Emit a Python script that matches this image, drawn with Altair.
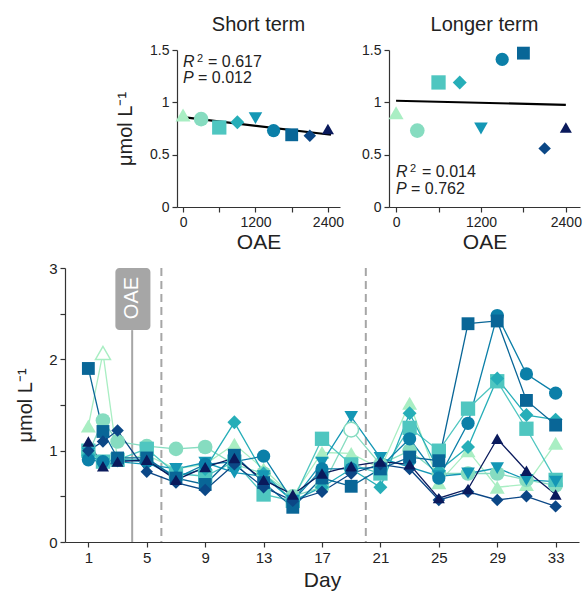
import altair as alt
import pandas as pd

# Sampling days of the time series
days = [1, 2, 3, 5, 7, 9, 11, 13, 15, 17, 19, 21, 23, 25, 27, 29, 31, 33]

# OAE treatment levels, one series per level
oae_levels = [0, 300, 600, 900, 1200, 1500, 1800, 2100, 2400]
series_names = [str(v) for v in oae_levels]
series_colors = ["#a9eec3", "#86dcc0", "#4fc6c0", "#26aeb8", "#1497b5",
                 "#0b7fa8", "#096697", "#0b4786", "#0a1a5c"]
series_shapes = ["triangle-up", "circle", "square", "diamond", "triangle-down",
                 "circle", "square", "diamond", "triangle-up"]
# relative symbol areas so that every shape looks about equally large
series_sizes = [1.55, 1.0, 0.95, 1.45, 1.55, 1.0, 0.95, 1.45, 1.55]

# Concentrations (µmol L-1) per treatment over time
s0 = [1.27, 2.07, 0.90, 0.95, 0.80, 0.85, 1.07, 0.80, 0.50, 0.98, 0.97, 0.80, 1.52, 0.65, 1.00, 0.60, 0.63, 1.08]
s300 = [0.97, 1.33, 1.10, 1.05, 1.02, 1.04, 0.85, 0.75, 0.50, 0.60, 1.23, 0.85, 1.00, 0.75, 0.75, 0.75, 0.68, 0.62]
s600 = [1.00, 0.88, 0.90, 1.02, 0.75, 0.72, 0.88, 0.52, 0.45, 1.13, 0.85, 0.75, 1.25, 1.00, 1.46, 1.76, 1.24, 0.68]
s900 = [0.95, 0.88, 0.90, 0.90, 0.72, 0.80, 1.31, 0.75, 0.45, 0.60, 0.80, 0.60, 1.41, 0.78, 1.04, 1.79, 1.39, 1.34]
s1200 = [0.97, 0.85, 0.88, 0.85, 0.80, 0.87, 0.76, 0.72, 0.45, 0.87, 1.37, 0.92, 0.82, 0.72, 0.75, 0.81, 0.68, 0.66]
s1500 = [0.90, 0.88, 0.90, 0.88, 0.70, 0.85, 0.88, 0.94, 0.45, 0.80, 0.80, 0.82, 1.13, 0.70, 1.30, 2.48, 1.84, 1.63]
s1800 = [1.90, 1.21, 0.92, 0.92, 0.70, 0.63, 0.95, 0.65, 0.38, 0.70, 0.61, 0.80, 0.93, 0.89, 2.39, 2.42, 1.55, 1.28]
s2100 = [1.00, 1.10, 1.22, 0.77, 0.65, 0.57, 0.85, 0.60, 0.45, 0.55, 0.75, 0.85, 0.80, 0.46, 0.55, 0.46, 0.50, 0.39]
s2400 = [1.10, 0.83, 0.88, 0.90, 0.68, 0.82, 0.92, 0.68, 0.52, 0.75, 0.83, 0.88, 0.85, 0.48, 0.58, 1.13, 0.78, 0.52]
series_values = [s0, s300, s600, s900, s1200, s1500, s1800, s2100, s2400]

# Points drawn as open symbols (treatment, day)
open_points = [("0", 2), ("300", 19)]

# Treatment means for the two periods
short_term = [0.88, 0.84, 0.76, 0.81, 0.85, 0.73, 0.69, 0.68, 0.745]
longer_term = [0.90, 0.73, 1.19, 1.19, 0.75, 1.41, 1.47, 0.56, 0.76]

# Event markers on the time axis
oae_day = 4
phase_days = [6, 20]

FONT = "Liberation Sans"
Y_TITLE = "μmol L⁻¹"

rows = []
for name, vals in zip(series_names, series_values):
    for d, v in zip(days, vals):
        rows.append({"day": d, "val": v, "series": name,
                     "open": (name, d) in open_points})
ts = pd.DataFrame(rows)

color_scale = alt.Scale(domain=series_names, range=series_colors)
shape_scale = alt.Scale(domain=series_names, range=series_shapes)
color_enc = alt.Color("series:N", scale=color_scale, legend=None)
shape_enc = alt.Shape("series:N", scale=shape_scale, legend=None)


def size_enc(base):
    return alt.Size("series:N", legend=None,
                    scale=alt.Scale(domain=series_names,
                                    range=[base * f for f in series_sizes]))


# ---------- time series panel ----------
x_day = alt.X("day:Q",
              scale=alt.Scale(domain=[-0.6, 34.6], nice=False, zero=False),
              axis=alt.Axis(values=list(range(1, 34, 2)), format="d",
                            labelExpr="(datum.value - 1) % 4 == 0 ? datum.label : ''",
                            labelOverlap=False, title="Day", labelFontSize=15,
                            titleFontSize=21, titlePadding=4))
y_ts = alt.Y("val:Q", scale=alt.Scale(domain=[0, 3], nice=False),
             axis=alt.Axis(values=[0, 0.5, 1, 1.5, 2, 2.5, 3], format="~g",
                           labelExpr="datum.value % 1 == 0 ? datum.label : ''",
                           title=Y_TITLE, labelFontSize=15, titleFontSize=20,
                           titlePadding=13))

marker = pd.DataFrame({"day": [oae_day], "y0": [0.0], "y1": [2.32],
                       "bx0": [2.85], "bx1": [5.25], "by0": [2.32], "by1": [3.0],
                       "ty": [2.66], "label": ["OAE"]})

oae_rule = alt.Chart(marker).mark_rule(color="#a6a6a6", strokeWidth=2).encode(
    x=alt.X("day:Q"), y="y0:Q", y2="y1:Q")
oae_box = alt.Chart(marker).mark_rect(color="#a6a6a6", cornerRadius=4).encode(
    x="bx0:Q", x2="bx1:Q", y="by0:Q", y2="by1:Q")
oae_text = alt.Chart(marker).mark_text(angle=270, color="white", fontSize=20,
                                      font=FONT, align="center",
                                      baseline="middle", dx=1).encode(
    x="day:Q", y="ty:Q", text="label:N")
phase_rules = alt.Chart(pd.DataFrame({"day": phase_days})).mark_rule(
    color="#a6a6a6", strokeWidth=2, strokeDash=[8, 5]).encode(x="day:Q")

ts_lines = alt.Chart(ts).mark_line(strokeWidth=1.3).encode(
    x=x_day, y=y_ts, color=color_enc, detail="series:N", order="day:Q")
ts_filled = alt.Chart(ts).transform_filter("!datum.open").mark_point(
    filled=True, opacity=1).encode(
    x="day:Q", y="val:Q", color=color_enc, shape=shape_enc, size=size_enc(100))
ts_open = alt.Chart(ts).transform_filter("datum.open").mark_point(
    filled=False, fill="white", opacity=1, strokeWidth=1.5).encode(
    x="day:Q", y="val:Q", color=color_enc, shape=shape_enc, size=size_enc(100))

bottom = alt.layer(phase_rules, oae_rule, oae_box, oae_text,
                   ts_lines, ts_filled, ts_open).properties(width=514, height=274)


# ---------- treatment response panels ----------
def term_panel(values, title, width, show_ytitle, r2, p, ann_y, dx_sup, dx_eq_r, dx_eq_p, extent):
    df = pd.DataFrame({"oae": oae_levels, "val": values, "series": series_names})
    x = alt.X("oae:Q", scale=alt.Scale(domain=[-100, 2600], nice=False, zero=False),
              axis=alt.Axis(values=[0, 600, 1200, 1800, 2400], format="d",
                            labelExpr="datum.value % 1200 == 0 ? datum.label : ''",
                            labelOverlap=False, title="OAE", labelFontSize=14,
                            titleFontSize=21, titlePadding=2))
    y = alt.Y("val:Q", scale=alt.Scale(domain=[0, 1.5], nice=False),
              axis=alt.Axis(values=[0, 0.25, 0.5, 0.75, 1, 1.25, 1.5], format="~g",
                            labelExpr="datum.value % 0.5 == 0 ? datum.label : ''",
                            title=Y_TITLE if show_ytitle else None,
                            labelFontSize=14, titleFontSize=20, titlePadding=14))
    fit = alt.Chart(df).transform_regression("oae", "val", extent=extent).mark_line(
        color="black", strokeWidth=2.2).encode(x=x, y=y)
    pts = alt.Chart(df).mark_point(filled=True, opacity=1).encode(
        x="oae:Q", y="val:Q", color=color_enc, shape=shape_enc, size=size_enc(145))

    ann = pd.DataFrame({"oae": [0, 0], "val": ann_y})
    base = alt.Chart(ann)
    r_txt = base.transform_filter("datum.val == %r" % ann_y[0]).mark_text(
        align="left", baseline="alphabetic", fontSize=16, font=FONT,
        fontStyle="italic", color="#222").encode(x="oae:Q", y="val:Q", text=alt.value("R"))
    sup_txt = base.transform_filter("datum.val == %r" % ann_y[0]).mark_text(
        align="left", baseline="alphabetic", fontSize=11, font=FONT, dx=dx_sup, dy=-5,
        color="#222").encode(x="oae:Q", y="val:Q", text=alt.value("2"))
    r_val = base.transform_filter("datum.val == %r" % ann_y[0]).mark_text(
        align="left", baseline="alphabetic", fontSize=16, font=FONT, dx=dx_eq_r,
        color="#222").encode(x="oae:Q", y="val:Q", text=alt.value("= " + r2))
    p_txt = base.transform_filter("datum.val == %r" % ann_y[1]).mark_text(
        align="left", baseline="alphabetic", fontSize=16, font=FONT,
        fontStyle="italic", color="#222").encode(x="oae:Q", y="val:Q", text=alt.value("P"))
    p_val = base.transform_filter("datum.val == %r" % ann_y[1]).mark_text(
        align="left", baseline="alphabetic", fontSize=16, font=FONT, dx=dx_eq_p,
        color="#222").encode(x="oae:Q", y="val:Q", text=alt.value("= " + p))

    return alt.layer(fit, pts, r_txt, sup_txt, r_val, p_txt, p_val).properties(
        width=width, height=157,
        title=alt.TitleParams(title, fontSize=20, font=FONT, fontWeight="normal",
                              anchor="middle", offset=8, color="#222"))


short_panel = term_panel(short_term, "Short term", 163, True, "0.617", "0.012",
                         [1.337, 1.184], 14, 25, 15, [0, 2450])
long_panel = term_panel(longer_term, "Longer term", 191, False, "0.014", "0.762",
                        [0.287, 0.124], 14, 26, 15, [0, 2400])

# empty cell that indents the upper row
indent = alt.Chart(pd.DataFrame({"v": [0]})).mark_point(opacity=0).encode(
    x=alt.X("v:Q", axis=None), y=alt.Y("v:Q", axis=None)
).properties(width=33, height=10)

top = alt.hconcat(indent, short_panel, long_panel, spacing=17)

chart = alt.vconcat(top, bottom, spacing=9).properties(
    padding={"left": 15, "right": 1, "top": 15, "bottom": 3}
).configure_view(stroke=None).configure_axis(
    labelFont=FONT, titleFont=FONT, titleFontWeight="normal",
    domainColor="#333", tickColor="#333", labelColor="#222", titleColor="#222",
    tickSize=5, grid=False, labelPadding=3, domainWidth=1.2, tickWidth=1.2
)

chart.save("out.html", embed_options={"renderer": "svg", "actions": False})
